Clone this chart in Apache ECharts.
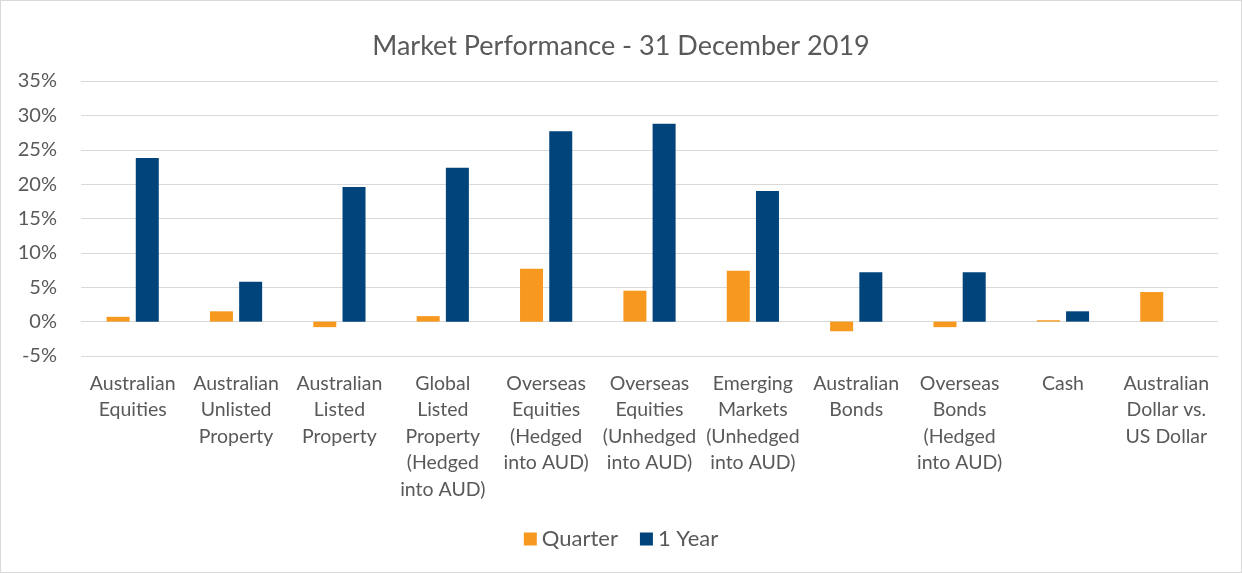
<!DOCTYPE html>
<html>
<head>
<meta charset="utf-8">
<script src="https://cdn.jsdelivr.net/npm/echarts@6/dist/echarts.min.js"></script>
<style>
html,body{margin:0;padding:0;background:#fff;}
#wrap{position:absolute;left:0;top:0;width:1240px;height:571px;border:1px solid #d9d9d9;}
#chart{width:1240px;height:571px;}
</style>
</head>
<body>
<div id="wrap"><div id="chart"></div></div>
<script>
var titleText = 'Market Performance - 31 December 2019';
var categories = [
  'Australian\nEquities',
  'Australian\nUnlisted\nProperty',
  'Australian\nListed\nProperty',
  'Global\nListed\nProperty\n(Hedged\ninto AUD)',
  'Overseas\nEquities\n(Hedged\ninto AUD)',
  'Overseas\nEquities\n(Unhedged\ninto AUD)',
  'Emerging\nMarkets\n(Unhedged\ninto AUD)',
  'Australian\nBonds',
  'Overseas\nBonds\n(Hedged\ninto AUD)',
  'Cash',
  'Australian\nDollar vs.\nUS Dollar'
];
var seriesNames = ['Quarter', '1 Year'];
var quarter = [0.7, 1.5, -0.8, 0.8, 7.7, 4.5, 7.4, -1.4, -0.8, 0.2, 4.3];
var oneYear = [23.8, 5.8, 19.6, 22.4, 27.7, 28.8, 19.0, 7.2, 7.2, 1.5, null];
var yMin = -5, yMax = 35, yStep = 5;

var font = 'Lato, "Open Sans", sans-serif';
var chart = echarts.init(document.getElementById('chart'), null, {renderer: 'canvas'});
chart.setOption({
  animation: false,
  backgroundColor: '#fff',
  title: {
    text: titleText, left: 'center', top: 27,
    textStyle: {fontFamily: font, fontSize: 27, fontWeight: 'normal', color: '#595959'}
  },
  legend: {
    bottom: 17, left: 'center', itemWidth: 13, itemHeight: 13, itemGap: 22,
    icon: 'rect',
    textStyle: {fontFamily: font, fontSize: 22, color: '#595959'},
    data: seriesNames
  },
  grid: {left: 80, right: 23, top: 80, bottom: 216, containLabel: false},
  xAxis: {
    type: 'category', data: categories,
    axisLine: {show: false}, axisTick: {show: false},
    axisLabel: {interval: 0, margin: 14, fontFamily: font, fontSize: 19.5, color: '#595959', lineHeight: 26.5, align: 'center'}
  },
  yAxis: {
    type: 'value', min: yMin, max: yMax, interval: yStep,
    axisLine: {show: false}, axisTick: {show: false},
    axisLabel: {margin: 24, fontFamily: font, fontSize: 20, color: '#595959', formatter: function(v){return v + '%';}},
    splitLine: {lineStyle: {color: '#d9d9d9', width: 1}}
  },
  series: [
    {name: seriesNames[0], type: 'bar', data: quarter, barWidth: 23, barGap: '27%', itemStyle: {color: '#F7981F'}},
    {name: seriesNames[1], type: 'bar', data: oneYear, barWidth: 23, barGap: '27%', itemStyle: {color: '#00447B'}}
  ]
});
</script>
</body>
</html>
